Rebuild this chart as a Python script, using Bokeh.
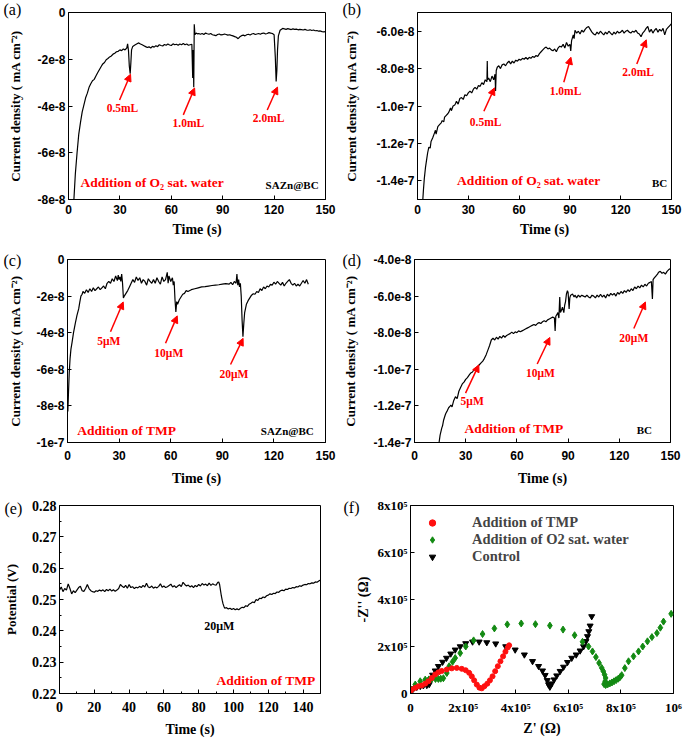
from bokeh.plotting import figure
from bokeh.layouts import column, row
from bokeh.models import (FixedTicker, Range1d, Label, Arrow, NormalHead, Legend,
                          LegendItem, PrintfTickFormatter)
from bokeh.embed import file_html
from bokeh.resources import INLINE

SERIF = "Liberation Serif"
SANS = "Liberation Sans"
RED = "#ff0000"

# ---------------- data (current densities in units of 1e-8 mA cm^-2) ----------------
# (a) SAZn@BC, addition of O2 saturated water
a_time = [3, 4, 5, 6, 7, 8, 9, 10, 11, 12,
          13, 14, 15, 16, 17, 18, 19, 20, 21, 22,
          23, 24, 25, 26, 27, 28, 29, 30, 31, 32,
          33, 34, 34.5, 35, 35.5, 36, 36.4, 36.8, 37.5, 38.5,
          40, 41, 42, 43, 44, 45, 46, 47, 48, 49,
          50, 51, 52, 53, 54, 55, 56, 57, 58, 59,
          60, 61, 62, 63, 64, 65, 66, 67, 68, 69,
          70, 71, 72, 72.5, 72.8, 73.1, 73.4, 73.8, 74.5, 75.5,
          76, 77, 78, 79, 80, 81, 82, 83, 84, 85,
          86, 87, 88, 89, 90, 91, 92, 93, 94, 95,
          96, 97, 98, 99, 100, 101, 102, 103, 104, 105,
          106, 107, 108, 109, 110, 111, 112, 113, 114, 115,
          116, 117, 118, 119, 120, 120.7, 121.2, 121.6, 122, 122.5,
          123.5, 125, 126, 127, 128, 129, 130, 131, 132, 133,
          134, 135, 136, 137, 138, 139, 140, 141, 142, 143,
          144, 145, 146, 147, 148, 149, 150]
a_current = [-8.2, -6.9, -6.0, -5.2, -4.7, -4.25, -3.95, -3.65, -3.45, -3.2,
             -3.05, -2.92, -2.86, -2.72, -2.58, -2.45, -2.32, -2.2, -2.14, -2.02,
             -1.97, -1.9, -1.86, -1.78, -1.74, -1.68, -1.66, -1.6, -1.63, -1.56,
             -1.6, -1.52, -1.34, -1.62, -2.3, -2.62, -2.15, -1.6, -1.45, -1.4,
             -1.34, -1.3, -1.35, -1.38, -1.42, -1.46, -1.5, -1.47, -1.52, -1.45,
             -1.48, -1.42, -1.46, -1.38, -1.41, -1.43, -1.37, -1.4, -1.35, -1.39,
             -1.41, -1.34, -1.38, -1.36, -1.4, -1.35, -1.38, -1.33, -1.38, -1.35,
             -1.4, -1.38, -1.36, -2.8, -1.6, -3.2, -0.5, -0.95, -0.88, -0.92,
             -0.9, -0.93, -0.9, -0.94, -0.88, -0.91, -0.93, -0.9, -0.95, -0.97,
             -0.99, -0.94, -0.92, -0.96, -0.95, -0.92, -0.94, -0.97, -0.95, -0.98,
             -1.0, -1.03, -1.06, -1.12, -1.04, -0.99, -0.97, -1.0, -0.95, -0.93,
             -0.96, -0.92, -0.9, -0.94, -0.92, -0.9, -0.93, -0.89, -0.88, -0.92,
             -0.9, -0.86, -0.88, -0.9, -0.95, -1.9, -2.95, -2.5, -1.6, -1.0,
             -0.76, -0.68, -0.7, -0.72, -0.69, -0.71, -0.73, -0.7, -0.72, -0.71,
             -0.74, -0.72, -0.73, -0.75, -0.72, -0.75, -0.76, -0.74, -0.77, -0.75,
             -0.78, -0.77, -0.8, -0.79, -0.82, -0.83, -0.82]

# (b) BC, addition of O2 saturated water
b_time = [3, 3.5, 4, 4.7, 5.5, 6, 6.7, 7.5, 8, 9,
          10, 10.6, 11, 12, 13, 14, 14.6, 15.5, 16, 17,
          18, 18.5, 19.5, 20, 21, 22, 22.4, 23, 24, 25,
          26, 27, 28, 29, 30, 31, 32, 33, 34, 35,
          36, 37, 38, 39, 40, 41, 41.2, 41.4, 42, 43,
          44, 45, 45.8, 46.1, 46.5, 47.1, 48, 49, 50, 51,
          52, 53, 54, 55, 56, 57, 58, 59, 60, 61,
          62, 63, 64, 65, 66, 67, 68, 69, 70, 71,
          72, 73, 74, 75, 76, 77, 78, 79, 80, 81,
          82, 83, 84, 85, 86, 87, 88, 89, 90, 90.5,
          91, 92, 92.5, 93, 94, 95, 96, 97, 98, 99,
          100, 101, 102, 103, 104, 105, 106, 107, 108, 109,
          110, 111, 112, 113, 114, 115, 116, 117, 118, 119,
          120, 121, 122, 123, 124, 125, 126, 127, 128, 129,
          130, 131, 132, 133, 134, 135, 136, 137, 138, 139,
          140, 141, 142, 143, 144, 145, 146, 147, 148, 149,
          150]
b_current = [-15.2, -14.5, -13.9, -13.3, -12.8, -12.5, -12.2, -12.25, -11.9, -11.7,
             -11.45, -11.3, -11.5, -11.1, -11.0, -10.9, -10.78, -10.85, -10.6, -10.5,
             -10.4, -10.33, -10.1, -10.25, -10.0, -9.95, -9.88, -9.75, -9.9, -9.6,
             -9.55, -9.65, -9.4, -9.45, -9.3, -9.2, -9.3, -9.1, -9.0, -9.1,
             -8.9, -8.95, -8.75, -8.85, -8.6, -8.7, -7.6, -8.6, -8.5, -8.7,
             -8.4, -8.6, -8.3, -9.2, -8.1, -7.93, -7.85, -8.0, -7.8, -7.75,
             -7.85, -7.7, -7.6, -7.75, -7.6, -7.7, -7.55, -7.6, -7.5, -7.55,
             -7.45, -7.5, -7.4, -7.5, -7.4, -7.45, -7.35, -7.4, -7.3, -7.35,
             -7.2, -7.1, -7.0, -6.9, -6.85, -6.95, -6.9, -7.0, -7.05, -6.95,
             -7.1, -6.9, -6.8, -6.85, -6.7, -6.9, -6.6, -6.8, -6.7, -7.05,
             -6.5, -6.2, -6.4, -5.95, -6.1, -6.0, -6.15, -5.95, -6.05, -5.9,
             -5.8, -5.75, -5.9, -6.05, -6.15, -6.2, -6.05, -6.15, -6.0, -6.1,
             -6.2, -6.05, -6.15, -6.0, -6.1, -6.2, -6.05, -6.15, -6.0, -6.1,
             -6.05, -5.95, -6.1, -6.0, -5.95, -6.05, -6.1, -6.0, -6.05, -5.95,
             -6.1, -6.15, -6.3, -6.1, -6.0, -5.85, -5.75, -6.05, -5.9, -6.1,
             -5.95, -5.85, -6.05, -5.9, -6.0, -5.85, -6.2, -5.9, -5.8, -5.7,
             -5.6]

# (c) SAZn@BC, addition of TMP
c_time = [0.2, 0.6, 1.0, 1.5, 2.0, 2.7, 3.5, 4.5, 5.5, 6.5,
          7.2, 7.8, 8.5, 9, 10, 11, 12, 13, 14, 15,
          16, 17, 18, 19, 20, 21, 22, 23, 24, 25,
          26, 27, 28, 29, 29.5, 30, 30.5, 31, 31.5, 32,
          32.5, 33, 34, 35, 36, 37, 38, 39, 40, 41,
          42, 43, 44, 45, 46, 47, 48, 49, 50, 51,
          52, 53, 54, 55, 56, 57, 58, 58.5, 59, 60,
          61, 61.5, 62, 62.5, 63, 63.5, 64, 65, 66, 67,
          68, 69, 70, 72, 74, 76, 78, 80, 82, 84,
          86, 88, 90, 92, 94, 95, 96, 97, 98, 98.5,
          99, 99.5, 100, 100.5, 101, 101.5, 102, 102.5, 103, 104,
          105, 106, 107, 108, 109, 110, 111, 112, 113, 114,
          115, 116, 117, 118, 119, 120, 121, 122, 123, 124,
          125, 126, 127, 128, 129, 130, 131, 132, 133, 134,
          135, 136, 137, 138, 139, 140]
c_current = [-8.3, -7.2, -6.2, -5.4, -4.9, -4.5, -4.0, -3.5, -3.05, -2.7,
             -2.3, -2.0, -1.9, -1.75, -1.85, -1.65, -1.8, -1.6, -1.75, -1.55,
             -1.7, -1.6, -1.5, -1.65, -1.55, -1.45, -1.6, -1.3, -1.2, -1.3,
             -1.05, -1.2, -0.9, -1.15, -0.85, -1.1, -0.95, -1.2, -0.8, -1.3,
             -2.1, -2.0, -1.85, -1.7, -1.5, -1.3, -1.1, -1.25, -0.95, -1.15,
             -1.0, -1.3, -1.1, -1.2, -1.4, -1.05, -1.2, -1.3, -1.1, -1.3,
             -1.0, -1.2, -1.35, -0.95, -1.2, -1.1, -0.7, -1.3, -0.9, -1.2,
             -1.0, -1.4, -1.2, -2.2, -2.86, -2.3, -2.45, -2.2, -2.05, -1.9,
             -1.85, -1.7, -1.75, -1.65, -1.6, -1.55, -1.5, -1.48, -1.45, -1.42,
             -1.4, -1.38, -1.35, -1.32, -1.35, -1.25, -1.38, -1.2, -1.3, -0.8,
             -1.4, -1.1, -1.5, -1.3, -2.0, -3.3, -4.22, -3.5, -2.9, -2.45,
             -2.25, -2.1, -1.95, -1.87, -1.9, -1.75, -1.8, -1.6, -1.7, -1.5,
             -1.6, -1.45, -1.5, -1.35, -1.4, -1.24, -1.35, -1.2, -1.3, -1.4,
             -1.25, -1.45, -1.3, -1.2, -1.1, -1.3, -1.4, -1.3, -1.45, -1.35,
             -1.45, -1.3, -1.15, -1.3, -1.1, -1.35]

# (d) BC, addition of TMP
d_time = [14.0, 14.4, 15, 16, 16.4, 17, 18, 18.4, 19, 20,
          21, 21.3, 22, 23, 24, 25, 26, 27, 28, 29,
          30, 31, 32, 33, 34, 35, 36, 37, 38, 39,
          40, 41, 42, 43, 44, 45, 46, 47, 48, 49,
          50, 51, 52, 53, 54, 55, 56, 57, 58, 59,
          60, 61, 62, 63, 64, 65, 66, 67, 68, 69,
          70, 71, 72, 73, 74, 75, 76, 77, 78, 79,
          80, 81, 82, 82.4, 82.8, 83.5, 84, 84.6, 85.1, 85.5,
          86, 86.7, 87.5, 88, 88.5, 89, 89.6, 90, 90.6, 91,
          91.5, 92.6, 93.5, 94, 95, 96, 97, 98, 99, 100,
          101, 102, 103, 104, 105, 106, 107, 108, 109, 110,
          111, 112, 113, 114, 115, 116, 117, 118, 119, 120,
          121, 122, 123, 124, 125, 126, 127, 128, 129, 130,
          131, 132, 133, 134, 135, 136, 137, 138, 138.8, 139.4,
          139.8, 140.5, 141.5, 142.4, 143, 144, 145, 146, 147, 148,
          149, 150]
d_current = [-14.3, -14.0, -13.6, -13.2, -13.1, -12.8, -12.5, -12.4, -12.3, -12.1,
             -12.0, -11.95, -12.05, -11.7, -11.5, -11.6, -11.2, -11.0, -10.8, -10.7,
             -10.55, -10.45, -10.32, -10.2, -10.15, -10.0, -9.95, -9.85, -9.75, -9.65,
             -9.55, -9.4, -9.2, -8.95, -8.7, -8.4, -8.3, -8.4, -8.25, -8.35,
             -8.2, -8.3, -8.15, -8.25, -8.15, -8.1, -8.05, -7.97, -8.05, -7.95,
             -8.0, -7.9, -7.95, -7.9, -7.85, -7.8, -7.75, -7.7, -7.65, -7.6,
             -7.55, -7.6, -7.5, -7.45, -7.5, -7.4, -7.35, -7.4, -7.3, -7.25,
             -7.2, -7.15, -7.2, -7.9, -7.1, -7.0, -6.9, -7.2, -6.05, -6.9,
             -6.8, -6.6, -6.9, -6.5, -6.3, -5.9, -5.7, -5.8, -6.7, -6.1,
             -5.95, -5.89, -6.05, -5.95, -6.1, -5.95, -6.05, -5.95, -6.0, -6.05,
             -5.95, -6.05, -6.1, -5.95, -6.0, -6.1, -5.95, -6.05, -5.9, -6.05,
             -5.95, -6.1, -5.9, -6.0, -5.85, -5.95, -5.85, -6.0, -5.8, -5.9,
             -5.75, -5.85, -5.7, -5.8, -5.65, -5.75, -5.6, -5.7, -5.5, -5.6,
             -5.45, -5.55, -5.4, -5.5, -5.35, -5.45, -5.3, -5.25, -5.2, -6.16,
             -5.1, -5.0, -4.9, -4.8, -4.7, -4.65, -4.75, -4.7, -4.8, -4.65,
             -4.55, -4.5]

# (e) open-circuit potential (V), addition of TMP
e_time = [0, 1, 2, 3, 4, 5, 6, 7, 8, 9,
          10, 11, 12, 13, 14, 15, 16, 17, 18, 19,
          20, 21, 22, 23, 24, 25, 26, 27, 28, 29,
          30, 31, 32, 33, 34, 35, 36, 37, 38, 39,
          40, 41, 42, 43, 44, 45, 46, 47, 48, 49,
          50, 51, 52, 53, 54, 55, 56, 57, 58, 59,
          60, 61, 62, 63, 64, 65, 66, 67, 68, 69,
          70, 71, 72, 73, 74, 75, 76, 77, 78, 79,
          80, 81, 82, 83, 84, 85, 86, 87, 88, 89,
          90, 91, 91.5, 92, 92.5, 93, 93.5, 94, 94.5, 95,
          96, 97, 98, 99, 100, 101, 102, 103, 104, 105,
          106, 107, 108, 109, 110, 111, 112, 113, 114, 115,
          116, 117, 118, 119, 120, 121, 122, 123, 124, 125,
          126, 127, 128, 129, 130, 131, 132, 133, 134, 135,
          136, 137, 138, 139, 140, 141, 142, 143, 144, 145,
          146, 147, 148, 149, 150]
e_potential = [0.2530, 0.2540, 0.2525, 0.2535, 0.2530, 0.2550, 0.2535, 0.2518, 0.2528, 0.2522,
               0.2530, 0.2538, 0.2542, 0.2528, 0.2526, 0.2535, 0.2548, 0.2535, 0.2528, 0.2525,
               0.2523, 0.2528, 0.2526, 0.2530, 0.2527, 0.2531, 0.2525, 0.2532, 0.2528, 0.2533,
               0.2527, 0.2531, 0.2526, 0.2530, 0.2535, 0.2548, 0.2542, 0.2538, 0.2545, 0.2536,
               0.2548, 0.2538, 0.2541, 0.2535, 0.2539, 0.2537, 0.2542, 0.2538, 0.2545, 0.2540,
               0.2552, 0.2540, 0.2538, 0.2543, 0.2536, 0.2540, 0.2537, 0.2542, 0.2550, 0.2539,
               0.2543, 0.2538, 0.2541, 0.2545, 0.2549, 0.2540, 0.2544, 0.2538, 0.2543, 0.2547,
               0.2541, 0.2555, 0.2548, 0.2543, 0.2546, 0.2540, 0.2544, 0.2538, 0.2545, 0.2541,
               0.2548, 0.2543, 0.2551, 0.2546, 0.2549, 0.2544, 0.2552, 0.2545, 0.2550, 0.2547,
               0.2546, 0.2555, 0.2556, 0.2548, 0.2530, 0.2512, 0.2498, 0.2486, 0.2478, 0.2472,
               0.2474, 0.2470, 0.2472, 0.2468, 0.2471, 0.2467, 0.2470, 0.2467, 0.2472, 0.2475,
               0.2474, 0.2480, 0.2478, 0.2485, 0.2488, 0.2492, 0.2490, 0.2500, 0.2497, 0.2504,
               0.2503, 0.2508, 0.2506, 0.2512, 0.2514, 0.2518, 0.2516, 0.2520, 0.2519, 0.2524,
               0.2523, 0.2528, 0.2530, 0.2528, 0.2533, 0.2532, 0.2536, 0.2535, 0.2538, 0.2537,
               0.2541, 0.2540, 0.2544, 0.2542, 0.2546, 0.2548, 0.2547, 0.2551, 0.2550, 0.2553,
               0.2552, 0.2556, 0.2555, 0.2559, 0.2562]

# (f) Nyquist plots, impedance in units of 1e5 ohm
tmp_zre = [0.0, 0.05, 0.18, 0.30, 0.43, 0.56, 0.68, 0.81, 0.94, 1.06,
           1.19, 1.38, 1.57, 1.76, 1.95, 2.10, 2.23, 2.33, 2.42, 2.52,
           2.62, 2.71, 2.81, 2.92, 3.02, 3.12, 3.22, 3.32, 3.42, 3.52,
           3.61, 3.70, 3.75]
tmp_zim = [0.0, 0.17, 0.24, 0.31, 0.34, 0.42, 0.52, 0.66, 0.81, 0.90,
           0.96, 1.02, 1.07, 1.09, 1.05, 0.99, 0.88, 0.73, 0.56, 0.38,
           0.25, 0.22, 0.31, 0.42, 0.56, 0.73, 0.95, 1.16, 1.37, 1.58,
           1.78, 1.96, 2.05]
o2_zre = [0.0, 0.05, 0.18, 0.37, 0.56, 0.70, 0.81, 0.95, 1.06, 1.15,
          1.25, 1.38, 1.47, 1.60, 1.70, 1.89, 2.10, 2.40, 2.74, 3.19,
          3.68, 4.21, 4.75, 5.30, 5.80, 6.24, 6.54, 6.77, 6.92, 7.05,
          7.17, 7.27, 7.33, 7.38, 7.42, 7.40, 7.36, 7.42, 7.50, 7.58,
          7.66, 7.74, 7.82, 7.90, 7.97, 8.03, 8.15, 8.29, 8.48, 8.67,
          8.83, 9.01, 9.18, 9.37, 9.50, 9.62, 9.91]
o2_zim = [0.0, 0.17, 0.38, 0.52, 0.59, 0.60, 0.62, 0.62, 0.62, 0.63,
          0.65, 0.87, 1.16, 1.35, 1.51, 1.72, 2.0, 2.26, 2.53, 2.77,
          2.94, 2.98, 2.95, 2.89, 2.72, 2.48, 2.2, 2.0, 1.79, 1.55,
          1.30, 1.09, 0.95, 0.80, 0.66, 0.52, 0.40, 0.36, 0.39, 0.43,
          0.47, 0.52, 0.57, 0.63, 0.70, 0.78, 1.08, 1.37, 1.58, 1.79,
          2.0, 2.22, 2.4, 2.57, 2.8, 3.06, 3.39]
ctl_zre = [0.0, 0.11, 0.24, 0.37, 0.49, 0.62, 0.71, 0.76, 0.84, 0.94,
           1.06, 1.22, 1.37, 1.53, 1.70, 1.89, 2.10, 2.36, 2.61, 2.90,
           3.24, 3.62, 3.98, 4.33, 4.64, 4.87, 5.02, 5.12, 5.20, 5.25,
           5.30, 5.37, 5.46, 5.56, 5.69, 5.82, 5.97, 6.13, 6.30, 6.45,
           6.58, 6.67, 6.73, 6.78, 6.83, 6.89]
ctl_zim = [0.06, 0.20, 0.27, 0.31, 0.34, 0.35, 0.39, 0.59, 0.79, 0.97,
           1.16, 1.34, 1.51, 1.69, 1.86, 2.0, 2.13, 2.2, 2.2, 2.17,
           2.12, 2.0, 1.86, 1.65, 1.37, 1.16, 0.97, 0.78, 0.56, 0.38,
           0.28, 0.42, 0.59, 0.76, 0.95, 1.13, 1.33, 1.51, 1.65, 1.82,
           2.0, 2.22, 2.43, 2.64, 2.88, 3.28]

# tick labels
time_ticks_30 = [0, 30, 60, 90, 120, 150]
a_yticks = {0: "0", -2: "-2e-8", -4: "-4e-8", -6: "-6e-8", -8: "-8e-8"}
b_yticks = {-14: "-1.4e-7", -12: "-1.2e-7", -10: "-1.0e-7", -8: "-8.0e-8", -6: "-6.0e-8"}
c_yticks = {0: "0", -2: "-2e-8", -4: "-4e-8", -6: "-6e-8", -8: "-8e-8", -10: "-1e-7"}
d_yticks = {-14: "-1.4e-7", -12: "-1.2e-7", -10: "-1.0e-7", -8: "-8.0e-8", -6: "-6.0e-8",
            -4: "-4.0e-8"}
f_xticks = {0: "0", 2: "2x10\u2075", 4: "4x10\u2075", 6: "6x10\u2075", 8: "8x10\u2075",
            10: "10\u2076"}
f_yticks = {0: "0", 2: "2x10\u2075", 4: "4x10\u2075", 6: "6x10\u2075", 8: "8x10\u2075"}

YLAB_J = "Current density ( mA cm\u207b\u00b2)"


def make_fig(w, h, bl, br, bt, bb, xr, yr):
    p = figure(width=w, height=h, x_range=Range1d(*xr), y_range=Range1d(*yr),
               output_backend="svg", toolbar_location=None,
               min_border_left=bl, min_border_right=br, min_border_top=bt,
               min_border_bottom=bb)
    p.xgrid.visible = False
    p.ygrid.visible = False
    p.outline_line_color = "black"
    p.outline_line_width = 1
    p.background_fill_color = "white"
    p.border_fill_color = "white"
    for ax in (p.xaxis[0], p.yaxis[0]):
        ax.axis_line_color = "black"
        ax.major_tick_in = 4
        ax.major_tick_out = 0
        ax.minor_tick_line_color = None
        ax.major_label_text_font_style = "bold"
        ax.major_label_text_color = "black"
        ax.axis_label_text_font = SERIF
        ax.axis_label_text_font_style = "bold"
        ax.axis_label_text_color = "black"
    return p


def current_panel(p, ylabel_standoff, yticks, xlabel_standoff, xtick_standoff):
    p.xaxis.ticker = FixedTicker(ticks=time_ticks_30)
    p.yaxis.ticker = FixedTicker(ticks=list(yticks.keys()))
    p.yaxis.major_label_overrides = yticks
    for ax in (p.xaxis[0], p.yaxis[0]):
        ax.major_label_text_font = SANS
        ax.major_label_text_font_size = "12px"
    p.xaxis.axis_label = "Time (s)"
    p.xaxis.axis_label_text_font_size = "14px"
    p.xaxis.major_label_standoff = xtick_standoff
    p.xaxis.axis_label_standoff = xlabel_standoff
    p.yaxis.axis_label = YLAB_J
    p.yaxis.axis_label_text_font_size = "13px"
    p.yaxis.major_label_standoff = 3
    p.yaxis.axis_label_standoff = ylabel_standoff


def txt(p, x, y, s, color=RED, size="11.5px", align="center", font=SERIF, style="bold"):
    p.add_layout(Label(x=x, y=y, text=s, text_color=color, text_font=font,
                       text_font_style=style, text_font_size=size, text_align=align,
                       text_baseline="middle"))


def arrow(p, x0, y0, x1, y1):
    p.add_layout(Arrow(end=NormalHead(size=7, fill_color=RED, line_color=RED),
                       x_start=x0, y_start=y0, x_end=x1, y_end=y1,
                       line_color=RED, line_width=1.5))


def panel_letter(p, s, offset, standoff):
    # the panel letter is the figure's own title, pushed left of the frame
    t = p.title
    t.text = s
    t.align = "left"
    t.offset = offset
    t.standoff = standoff
    t.vertical_align = "bottom"
    t.text_font = SERIF
    t.text_font_style = "normal"
    t.text_font_size = "16px"
    t.text_color = "black"


# ---------------- (a) ----------------
pa = make_fig(340, 240, 68, 15, 12, 40, (0, 150), (-8, 0))
current_panel(pa, 11, a_yticks, 5, 5)
pa.line(a_time, a_current, line_color="black", line_width=1.2)
arrow(pa, 29.8, -3.74, 36.2, -2.64)
txt(pa, 31.5, -4.09, "0.5mL")
arrow(pa, 67, -4.38, 73.6, -3.23)
txt(pa, 70, -4.72, "1.0mL")
arrow(pa, 116, -4.17, 122, -3.19)
txt(pa, 116.8, -4.51, "2.0mL")
txt(pa, 7, -7.28, "Addition of O\u2082 sat. water", size="13.5px", align="left")
txt(pa, 146, -7.36, "SAZn@BC", color="black", size="11px", align="right")
panel_letter(pa, "(a)", -65, -10)

# ---------------- (b) ----------------
pb = make_fig(345, 240, 77, 14, 12, 41, (0, 150), (-15, -5))
current_panel(pb, 14, b_yticks, 5, 5)
pb.line(b_time, b_current, line_color="black", line_width=1.2)
arrow(pb, 39.2, -10.28, 45.5, -9.03)
txt(pb, 40.2, -10.87, "0.5mL")
arrow(pb, 86.4, -8.73, 90.6, -7.39)
txt(pb, 87.4, -9.2, "1.0mL")
arrow(pb, 129.5, -7.75, 135.1, -6.46)
txt(pb, 130.3, -8.19, "2.0mL")
txt(pb, 23.4, -13.98, "Addition of O\u2082 sat. water", size="13.5px", align="left")
txt(pb, 147.5, -14.1, "BC", color="black", size="11px", align="right")
panel_letter(pb, "(b)", -75, -10)

# ---------------- (c) ----------------
pc = make_fig(340, 250, 67, 15, 17, 48, (0, 150), (-10, 0))
current_panel(pc, 10, c_yticks, 8, 8)
pc.line(c_time, c_current, line_color="black", line_width=1.2)
arrow(pc, 25, -3.95, 32.4, -2.32)
txt(pc, 24, -4.43, "5\u03bcM")
arrow(pc, 57, -4.58, 63.8, -3.08)
txt(pc, 58.9, -5.12, "10\u03bcM")
arrow(pc, 94.8, -5.74, 102.1, -4.31)
txt(pc, 96.7, -6.25, "20\u03bcM")
txt(pc, 5.6, -9.35, "Addition of TMP", size="13.5px", align="left")
txt(pc, 143.2, -9.35, "SAZn@BC", color="black", size="11px", align="right")
panel_letter(pc, "(c)", -64, -18)

# ---------------- (d) ----------------
pd_ = make_fig(345, 250, 74, 15, 19, 47, (0, 150), (-14, -4))
current_panel(pd_, 12, d_yticks, 8, 8)
pd_.line(d_time, d_current, line_color="black", line_width=1.2)
arrow(pd_, 29.9, -11.3, 37.7, -9.76)
txt(pd_, 33.8, -11.72, "5\u03bcM")
arrow(pd_, 71.9, -9.71, 79.3, -8.26)
txt(pd_, 73.8, -10.18, "10\u03bcM")
arrow(pd_, 128.5, -7.77, 135.3, -6.32)
txt(pd_, 128.5, -8.28, "20\u03bcM")
txt(pd_, 29.3, -13.24, "Addition of TMP", size="13.5px", align="left")
txt(pd_, 139.2, -13.3, "BC", color="black", size="11px", align="right")
panel_letter(pd_, "(d)", -72, -18)

# ---------------- (e) ----------------
pe = make_fig(340, 251, 58, 20, 15, 48, (0, 150), (0.22, 0.28))
pe.xaxis.ticker = FixedTicker(ticks=[0, 20, 40, 60, 80, 100, 120, 140],
                              minor_ticks=[10, 30, 50, 70, 90, 110, 130, 150])
pe.yaxis.ticker = FixedTicker(ticks=[0.22, 0.23, 0.24, 0.25, 0.26, 0.27, 0.28],
                              minor_ticks=[0.225, 0.235, 0.245, 0.255, 0.265, 0.275])
pe.yaxis.formatter = PrintfTickFormatter(format="%.2f")
for ax in (pe.xaxis[0], pe.yaxis[0]):
    ax.major_label_text_font = SERIF
    ax.major_label_text_font_size = "14px"
    ax.minor_tick_line_color = "black"
    ax.minor_tick_in = 2
    ax.minor_tick_out = 0
pe.xaxis.axis_label = "Time (s)"
pe.xaxis.axis_label_text_font_size = "14px"
pe.xaxis.major_label_standoff = 8
pe.xaxis.axis_label_standoff = 7
pe.yaxis.axis_label = "Potential (V)"
pe.yaxis.axis_label_text_font_size = "13px"
pe.yaxis.major_label_standoff = 3
pe.yaxis.axis_label_standoff = 10
pe.line(e_time, e_potential, line_color="black", line_width=1.2)
txt(pe, 91.8, 0.2417, "20\u03bcM", color="black", size="12px")
txt(pe, 147.1, 0.2241, "Addition of TMP", size="13.5px", align="right")
panel_letter(pe, "(e)", -55, -22)

# ---------------- (f) ----------------
pf = make_fig(345, 251, 70, 12, 15, 47, (0, 10), (0, 8))
pf.xaxis.ticker = FixedTicker(ticks=list(f_xticks.keys()))
pf.xaxis.major_label_overrides = f_xticks
pf.yaxis.ticker = FixedTicker(ticks=list(f_yticks.keys()))
pf.yaxis.major_label_overrides = f_yticks
for ax in (pf.xaxis[0], pf.yaxis[0]):
    ax.major_label_text_font = SERIF
    ax.major_label_text_font_size = "13px"
pf.xaxis.axis_label = "Z' (\u03a9)"
pf.xaxis.axis_label_text_font_size = "14px"
pf.xaxis.major_label_standoff = 6
pf.xaxis.axis_label_standoff = 3
pf.yaxis.axis_label = "-Z'' (\u03a9)"
pf.yaxis.axis_label_text_font_size = "14px"
pf.yaxis.major_label_standoff = 3
pf.yaxis.axis_label_standoff = 4
r_ctl = pf.scatter(ctl_zre, ctl_zim, marker="inverted_triangle", size=6,
                   fill_color="black", line_color="black")
r_o2 = pf.scatter(o2_zre, o2_zim, marker="diamond", size=7,
                  fill_color="#138a13", line_color="#138a13")
r_tmp = pf.scatter(tmp_zre, tmp_zim, marker="circle", size=5,
                   fill_color="#ff1010", line_color="#ff1010")
legend = Legend(items=[LegendItem(label="Addition of TMP", renderers=[r_tmp]),
                       LegendItem(label="Addition of O2 sat. water", renderers=[r_o2]),
                       LegendItem(label="Control", renderers=[r_ctl])],
                location=(14, 128), border_line_color=None, background_fill_alpha=0,
                label_text_font=SERIF, label_text_font_style="bold",
                label_text_font_size="14.5px", glyph_width=16, glyph_height=17,
                label_height=17, label_standoff=32, padding=0, margin=0, spacing=0)
pf.add_layout(legend)
panel_letter(pf, "(f)", -67, -20)

layout = column(row(pa, pb), row(pc, pd_), row(pe, pf))
open("out.html", "w").write(file_html(layout, INLINE))
